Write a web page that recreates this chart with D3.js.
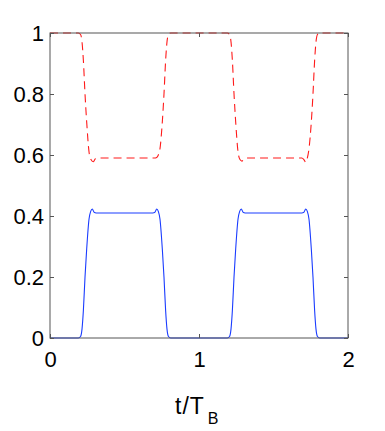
<!DOCTYPE html>
<html>
<head>
<meta charset="utf-8">
<script src="https://cdn.jsdelivr.net/npm/d3@7"></script>
<style>
  body { margin: 0; background: #fff; }
  text { font-family: "Liberation Sans", Arial, sans-serif; }
</style>
</head>
<body>
<script>
// blue solid curve: t/T_B and value
const blueT = [0, 0.19, 0.205, 0.215, 0.224, 0.235, 0.246, 0.262, 0.273, 0.284, 0.296, 0.31, 0.69, 0.704, 0.716, 0.727, 0.738, 0.754, 0.765, 0.776, 0.785, 0.795, 0.81,
               1.19, 1.205, 1.215, 1.224, 1.235, 1.246, 1.262, 1.273, 1.284, 1.296, 1.31, 1.69, 1.704, 1.716, 1.727, 1.738, 1.754, 1.765, 1.776, 1.785, 1.795, 1.81, 2];
const blueV = [0, 0, 0.005, 0.03, 0.09, 0.2, 0.29, 0.39, 0.415, 0.423, 0.412, 0.41, 0.41, 0.412, 0.423, 0.415, 0.39, 0.29, 0.2, 0.09, 0.03, 0.005, 0,
               0, 0.005, 0.03, 0.09, 0.2, 0.29, 0.39, 0.415, 0.423, 0.412, 0.41, 0.41, 0.412, 0.423, 0.415, 0.39, 0.29, 0.2, 0.09, 0.03, 0.005, 0, 0];

// red dashed curve
const redT = [0, 0.19, 0.205, 0.215, 0.224, 0.235, 0.246, 0.262, 0.275, 0.29, 0.305, 0.32, 0.7, 0.716, 0.727, 0.738, 0.754, 0.765, 0.776, 0.785, 0.795, 0.81,
              1.19, 1.205, 1.215, 1.224, 1.235, 1.246, 1.262, 1.275, 1.288, 1.305, 1.32, 1.69, 1.704, 1.716, 1.727, 1.738, 1.754, 1.765, 1.776, 1.785, 1.795, 1.81, 2];
const redV = [1, 1, 0.995, 0.97, 0.91, 0.8, 0.71, 0.61, 0.585, 0.578, 0.588, 0.59, 0.59, 0.592, 0.6, 0.62, 0.71, 0.8, 0.91, 0.97, 0.995, 1,
              1, 0.995, 0.97, 0.91, 0.8, 0.71, 0.61, 0.585, 0.58, 0.588, 0.59, 0.59, 0.585, 0.576, 0.59, 0.62, 0.71, 0.8, 0.91, 0.97, 0.995, 1, 1];

const xTicks = [0, 1, 2];
const yTicks = [0, 0.2, 0.4, 0.6, 0.8, 1];

const W = 385, H = 431;
const margin = {left: 50, right: 37, top: 33, bottom: 93};

const svg = d3.select('body').append('svg')
  .attr('width', W)
  .attr('height', H);

const x = d3.scaleLinear().domain([0, 2]).range([margin.left, W - margin.right]);
const y = d3.scaleLinear().domain([0, 1]).range([H - margin.bottom, margin.top]);

const line = d3.line()
  .x(d => x(d[0]))
  .y(d => y(d[1]))
  .curve(d3.curveMonotoneX);

svg.append('path')
  .datum(blueT.map((t, i) => [t, blueV[i]]))
  .attr('d', line)
  .attr('fill', 'none')
  .attr('stroke', '#1a3cff')
  .attr('stroke-width', 1.1);

svg.append('path')
  .datum(redT.map((t, i) => [t, redV[i]]))
  .attr('d', line)
  .attr('fill', 'none')
  .attr('stroke', '#ff1a1a')
  .attr('stroke-width', 1.1)
  .attr('stroke-dasharray', '8,5');

// box with inward ticks on all four sides
const tickLen = 4;
const axisCol = '#555';

svg.append('rect')
  .attr('x', x(0))
  .attr('y', y(1))
  .attr('width', x(2) - x(0))
  .attr('height', y(0) - y(1))
  .attr('fill', 'none')
  .attr('stroke', axisCol)
  .attr('stroke-width', 1);

const bottomAxis = d3.axisBottom(x).tickValues(xTicks).tickSize(-tickLen).tickPadding(13).tickFormat(d3.format('d'));
const topAxis = d3.axisTop(x).tickValues(xTicks).tickSize(-tickLen).tickFormat('');
const leftAxis = d3.axisLeft(y).tickValues(yTicks).tickSize(-tickLen).tickPadding(6).tickFormat(d => d === 0 || d === 1 ? String(d) : d3.format('.1f')(d));
const rightAxis = d3.axisRight(y).tickValues(yTicks).tickSize(-tickLen).tickFormat('');

[
  [bottomAxis, `translate(0,${y(0)})`],
  [topAxis, `translate(0,${y(1)})`],
  [leftAxis, `translate(${x(0)},0)`],
  [rightAxis, `translate(${x(2)},0)`]
].forEach(([ax, tr]) => {
  const g = svg.append('g').attr('transform', tr).call(ax);
  g.select('.domain').remove();
  g.selectAll('line').attr('stroke', axisCol);
  g.selectAll('text')
    .attr('fill', '#000')
    .style('font-size', '22px')
    .style('font-family', '"Liberation Sans", Arial, sans-serif');
});

// x label t/T_B
const xl = svg.append('text')
  .attr('x', 175)
  .attr('y', 414)
  .attr('text-anchor', 'start')
  .style('font-size', '23px');
xl.append('tspan').attr('letter-spacing', 1).text('t/T');
xl.append('tspan').attr('dx', 3).attr('dy', 10).style('font-size', '16px').text('B');
</script>
</body>
</html>
